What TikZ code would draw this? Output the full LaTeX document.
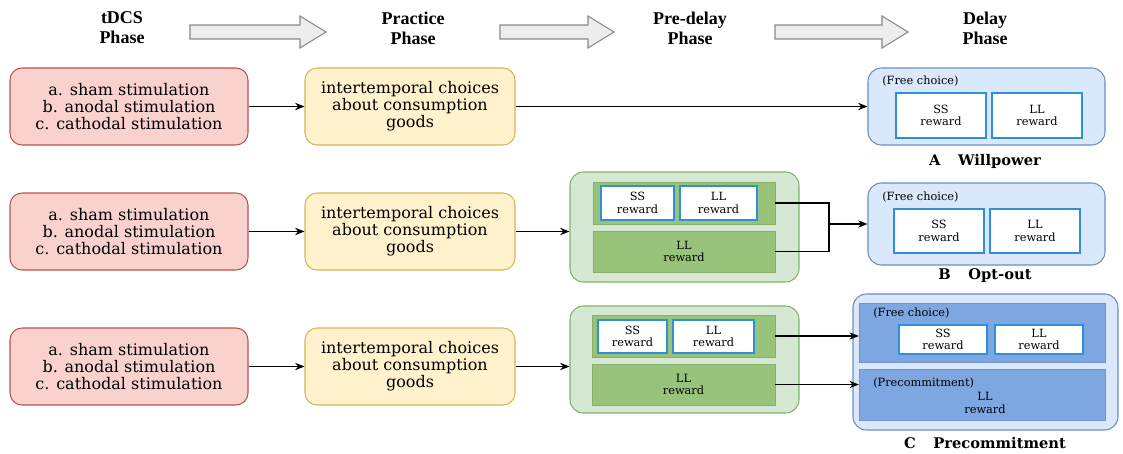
\documentclass[tikz,border=0pt]{standalone}
\usepackage{fontspec}
\setmainfont{DejaVu Serif}
\newfontfamily\hdfont{Liberation Serif}
\usetikzlibrary{arrows.meta}
\definecolor{redfill}{HTML}{F9D2CE}
\definecolor{reddraw}{HTML}{B85450}
\definecolor{yelfill}{HTML}{FFF2CC}
\definecolor{yeldraw}{HTML}{D6B656}
\definecolor{grnfill}{HTML}{D5E8D4}
\definecolor{grndraw}{HTML}{82B366}
\definecolor{grndark}{HTML}{97C37A}
\definecolor{blufill}{HTML}{DAE8FC}
\definecolor{bludraw}{HTML}{6C8EBF}
\definecolor{bludark}{HTML}{7EA6E0}
\definecolor{wbdraw}{HTML}{2E90DA}
\definecolor{arrfill}{HTML}{EDEDED}
\definecolor{arrdraw}{HTML}{8A8A8A}
\newcommand\mybox[7]{%
  \pgfmathsetmacro\myW{(#5-#3)*0.75}%
  \pgfmathsetmacro\myH{(#6-#4)*0.75}%
  \node[#2, minimum width=\myW pt, minimum height=\myH pt, inner sep=0pt] (#1) at ({(#3+#5)/2},{(#4+#6)/2}) {#7};}
\tikzset{
  redbox/.style={draw=reddraw, fill=redfill, rounded corners=9pt, line width=0.8pt, align=center, font=\fontsize{12}{12.8}\selectfont},
  yelbox/.style={draw=yeldraw, fill=yelfill, rounded corners=9pt, line width=0.8pt, align=center, font=\fontsize{12}{12.8}\selectfont},
  grnbox/.style={draw=grndraw, fill=grnfill, rounded corners=10pt, line width=0.8pt},
  grninner/.style={fill=grndark, draw=grndark!90!black, line width=0.3pt, align=center, font=\fontsize{8.5}{9.5}\selectfont},
  blubox/.style={draw=bludraw, fill=blufill, rounded corners=10pt, line width=0.8pt},
  bluinner/.style={fill=bludark, draw=bludark!90!black, line width=0.3pt},
  wbox/.style={fill=white, draw=wbdraw, line width=1pt, align=center, font=\fontsize{8.5}{9.5}\selectfont},
  smalltxt/.style={font=\fontsize{8.5}{9.5}\selectfont, inner sep=0pt, anchor=west},
  hd/.style={font=\hdfont\bfseries\fontsize{13.5}{15}\selectfont, align=center},
  captxt/.style={font=\bfseries\fontsize{11}{13}\selectfont},
  conn/.style={line width=0.9pt, -{Stealth[length=7pt,width=5.5pt]}},
  plainline/.style={line width=0.9pt},
  bigarrow/.style={fill=arrfill, draw=arrdraw, line width=0.8pt}
}
\begin{document}
\begin{tikzpicture}[x=0.75pt,y=-0.75pt]
\useasboundingbox (0,0) rectangle (1123,453);
% header
\node[hd] (h1) at (122,28) {tDCS\\Phase};
\node[hd] (h2) at (413,28) {Practice\\Phase};
\node[hd] (h3) at (690,28) {Pre-delay\\Phase};
\node[hd] (h4) at (985,28) {Delay\\Phase};
\draw[bigarrow] (190,25) -- (300,25) -- (300,16) -- (326,32) -- (300,48) -- (300,39) -- (190,39) -- cycle;
\draw[bigarrow] (500,25) -- (588,25) -- (588,16) -- (614,32) -- (588,48) -- (588,39) -- (500,39) -- cycle;
\draw[bigarrow] (775,25) -- (882,25) -- (882,16) -- (908,32) -- (882,48) -- (882,39) -- (775,39) -- cycle;
% Row A
\mybox{redA}{redbox}{10}{68}{248}{145}{a. sham stimulation\\b. anodal stimulation\\c. cathodal stimulation}
\mybox{yelA}{yelbox}{305}{68}{515}{145}{intertemporal choices\\about consumption\\goods}
\mybox{bluA}{blubox}{868}{68}{1105}{145}{}
\node[smalltxt] (fcA) at (882,81) {(Free choice)};
\mybox{ssA}{wbox}{896}{93}{986}{138}{SS\\reward}
\mybox{llA}{wbox}{992}{93}{1082}{138}{LL\\reward}
\node[captxt] (capA) at (985,161) {A\hspace{1.2em}Willpower};
\draw[conn] (redA) -- (yelA);
\draw[conn] (yelA) -- (bluA);
% Row B
\mybox{redB}{redbox}{10}{193}{248}{270}{a. sham stimulation\\b. anodal stimulation\\c. cathodal stimulation}
\mybox{yelB}{yelbox}{305}{193}{515}{270}{intertemporal choices\\about consumption\\goods}
\mybox{grnB}{grnbox}{570}{172}{799}{282}{}
\mybox{gtB}{grninner}{593}{182}{775}{224}{}
\mybox{ssB}{wbox}{601}{186}{674}{220}{SS\\reward}
\mybox{llB}{wbox}{680}{186}{757}{220}{LL\\reward}
\mybox{gbB}{grninner}{593}{231}{775}{272}{LL\\reward}
\mybox{bluB}{blubox}{868}{183}{1105}{265}{}
\node[smalltxt] (fcB) at (882,197) {(Free choice)};
\mybox{ssB2}{wbox}{894}{209}{984}{253}{SS\\reward}
\mybox{llB2}{wbox}{990}{209}{1080}{253}{LL\\reward}
\node[captxt] (capB) at (985,276) {B\hspace{1.2em}Opt-out};
\draw[conn] (redB) -- (yelB);
\draw[conn] (yelB.east) -- (yelB.east -| grnB.west);
\coordinate (brk) at (829,224);
\draw[plainline] (gtB.east) -- (gtB.east -| brk) -- (gbB.east -| brk) -- (gbB.east);
\draw[conn] (brk) -- (bluB.west);
% Row C
\mybox{redC}{redbox}{10}{328}{248}{405}{a. sham stimulation\\b. anodal stimulation\\c. cathodal stimulation}
\mybox{yelC}{yelbox}{305}{328}{515}{405}{intertemporal choices\\about consumption\\goods}
\mybox{grnC}{grnbox}{570}{306}{799}{413}{}
\mybox{gtC}{grninner}{592}{315}{775}{357}{}
\mybox{ssC}{wbox}{598}{320}{667}{353}{SS\\reward}
\mybox{llC}{wbox}{673}{320}{754}{353}{LL\\reward}
\mybox{gbC}{grninner}{592}{364}{775}{405}{LL\\reward}
\mybox{bluC}{blubox}{853}{294}{1118}{430}{}
\mybox{btC}{bluinner}{859}{303}{1105}{362}{}
\node[smalltxt] (fcC) at (873,313) {(Free choice)};
\mybox{ssC2}{wbox}{899}{325}{987}{354}{SS\\reward}
\mybox{llC2}{wbox}{995}{325}{1083}{354}{LL\\reward}
\mybox{bbC}{bluinner}{859}{369}{1105}{420}{}
\node[smalltxt] (pcC) at (873,383) {(Precommitment)};
\node[font=\fontsize{8.5}{9.5}\selectfont, align=center] (llC3) at (985,403) {LL\\reward};
\node[captxt] (capC) at (985,443) {C\hspace{1.2em}Precommitment};
\draw[conn] (redC) -- (yelC);
\draw[conn] (yelC.east) -- (yelC.east -| grnC.west);
\draw[conn] (gtC.east) -- (gtC.east -| btC.west);
\draw[conn] (gbC.east) -- (gbC.east -| bbC.west);
\end{tikzpicture}
\end{document}
